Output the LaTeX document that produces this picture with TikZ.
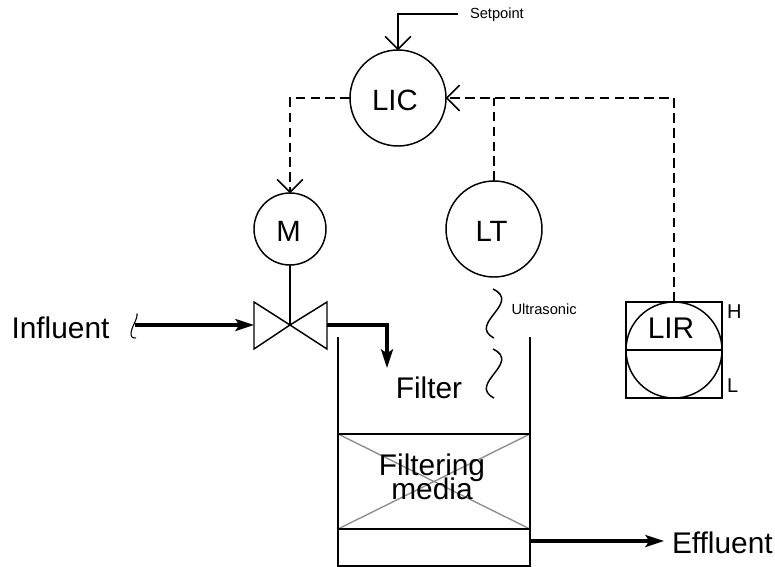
\documentclass[tikz,border=0pt]{standalone}
\usepackage{fontspec}
\setmainfont{Liberation Sans}
\usetikzlibrary{arrows.meta}
\newcommand{\fs}[1]{\fontsize{#1}{#1}\selectfont}
\tikzset{
  x=0.75pt,y=-0.75pt,
  thinline/.style={line width=1.1pt,line join=miter},
  sigline/.style={thinline,dash pattern=on 7.2pt off 4pt},
  barb/.style={-{Straight Barb[length=9.5pt,width=19pt,line width=1.1pt,round=false]}},
  pipeflow/.style={line width=2.4pt,line join=miter,-{Stealth[length=14pt,width=9pt,inset=3pt]}},
  inst/.style={circle,draw,thinline,inner sep=0pt,outer sep=0pt,font=\fs{22},text height=18.4pt,text depth=0pt},
  biginst/.style={inst,minimum size=72pt},
  smallinst/.style={inst,minimum size=54pt},
  bigtext/.style={inner sep=0pt,outer sep=0pt,font=\fs{22.4},anchor=base},
  smalltext/.style={inner sep=0pt,outer sep=0pt,font=\fs{11},anchor=base west},
  hl/.style={inner sep=0pt,outer sep=0pt,font=\fs{15},anchor=base west},
  media/.style={line width=1pt,draw=black!45}
}
\begin{document}
\begin{tikzpicture}
\useasboundingbox (0,0) rectangle (775,567);
% instruments
\node[biginst] (lic) at (398,98) {LIC\kern4.5pt};
\node[smallinst] (m) at (290,229) {M\kern2.2pt};
\node[biginst] (lt) at (494,229) {LT\kern3.6pt};
% setpoint
\node[smalltext] (sp) at (470,18.5) {Setpoint};
\coordinate (spend) at (458,14);
\draw[thinline,barb] (spend) -| (lic.north);
% signal lines
\coordinate (licl) at (290,98);
\coordinate (tee) at (494,98);
\coordinate (lirtop) at (674,98);
\draw[sigline,barb] (lic.west) -- (licl) -- (m.north);
\draw[sigline] (lt.north) -- (tee);
% LIR
\node[draw,thinline,minimum size=72pt,inner sep=0pt,outer sep=0pt] (lirbox) at (674,350) {};
\node[circle,draw,thinline,minimum size=72pt,inner sep=0pt,outer sep=0pt] (lir) at (674,350) {};
\draw[thinline] (lirbox.west) -- (lirbox.east);
\node[bigtext] (lirt) at (671,338.5) {LIR};
\node[hl] (h) at (727,318) {H};
\node[hl] (l) at (727,392) {L};
\draw[sigline,barb] (lir.north) -- (lirtop) -- (lic.east);
% valve
\coordinate (vc) at (290,325);
\draw[thinline] (vc) -- (254,302) -- (254,349) -- cycle;
\draw[thinline] (vc) -- (327,302) -- (327,349) -- cycle;
\draw[thinline] (m.south) -- (vc);
% flows
\node[bigtext] (inf) at (60.5,338) {Influent};
\coordinate (inA) at (135,325);
\coordinate (vl) at (254,325);
\coordinate (vr) at (327,325);
\coordinate (dropend) at (387,368);
\draw[pipeflow] (inA) -- (vl);
\draw[pipeflow] (vr) -| (dropend);
\draw[line width=.8pt] (137,313.5) .. controls (138,319) and (131,327) .. (131,334) .. controls (131,338) and (134,338.5) .. (136,338);
% waves
\draw[thinline] (493,289) .. controls (522,303) and (467,324) .. (494,338);
\draw[thinline] (493,349) .. controls (522,363) and (467,384) .. (494,398);
\node[smalltext] (us) at (511.5,314) {Ultrasonic};
% tank
\coordinate (tl) at (338,337);
\coordinate (tr) at (530,337);
\coordinate (bl) at (338,566);
\coordinate (br) at (530,566);
\coordinate (ml1) at (338,434);
\coordinate (mr1) at (530,434);
\coordinate (ml2) at (338,529);
\coordinate (mr2) at (530,529);
\draw[media] (ml1) -- (mr2) (mr1) -- (ml2);
\draw[thinline] (tl) -- (bl) -- (br) -- (tr);
\draw[thinline] (ml1) -- (mr1) (ml2) -- (mr2);
\node[bigtext] (flt) at (429,398) {Filter};
\node[bigtext] (fm1) at (432,475) {Filtering};
\node[bigtext] (fm2) at (432,499) {media};
% effluent
\node[bigtext,anchor=base west] (eff) at (672,553) {Effluent};
\coordinate (ef) at (530,541);
\coordinate (efend) at (664,541);
\draw[pipeflow] (ef) -- (efend);
\end{tikzpicture}
\end{document}
